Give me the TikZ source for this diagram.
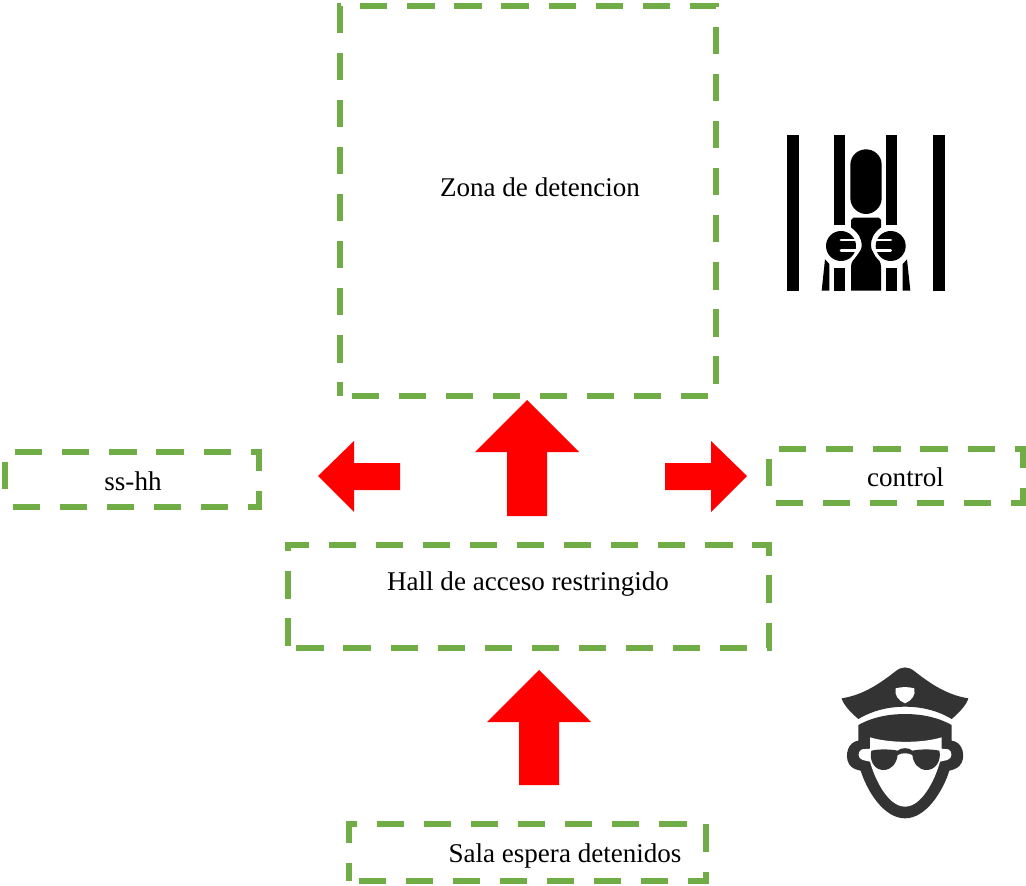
\documentclass[tikz,border=0pt]{standalone}
\usepackage{fontspec}
\setmainfont{Liberation Serif}
\definecolor{boxgreen}{HTML}{70AD47}
\definecolor{capgray}{HTML}{333333}
\tikzset{
	zonebox/.style={draw=boxgreen,line width=3.9pt,dash pattern=on 15.5pt off 11.3pt,inner sep=0pt,outer sep=0pt},
	zonetext/.style={font=\fontsize{15.4}{18}\selectfont,inner sep=0pt},
	redarrow/.style={fill=red}
}
\begin{document}
\begin{tikzpicture}[x=0.02cm,y=-0.02cm]
\useasboundingbox (0,0) rectangle (1026,885);

\node[zonebox,dash phase=20.2pt,minimum width=376*0.02cm,minimum height=390*0.02cm] (zona) at (528,201) {};
\node[zonebox,dash phase=22.45pt,minimum width=254*0.02cm,minimum height=55*0.02cm] (sshh) at (132,479.5) {};
\node[zonebox,dash phase=23pt,minimum width=254*0.02cm,minimum height=54*0.02cm] (control) at (896,476) {};
\node[zonebox,dash phase=22.05pt,minimum width=481*0.02cm,minimum height=103*0.02cm] (hall) at (528.5,596.5) {};
\node[zonebox,dash phase=21.3pt,minimum width=357*0.02cm,minimum height=57*0.02cm] (sala) at (527.5,852.5) {};

\node[zonetext] (zonalabel) at (540,187) {Zona de detencion};
\node[zonetext] (sshhlabel) at (133,481) {ss-hh};
\node[zonetext] (controllabel) at (905.5,477) {control};
\node[zonetext] (halllabel) at (528,584) {Hall de acceso restringido};
\node[zonetext] (salalabel) at (565,856) {Sala espera detenidos};

\fill[redarrow] (527,400) -- (579,452) -- (547,452) -- (547,516) -- (507,516) -- (507,452) -- (475,452) -- cycle;
\fill[redarrow] (539,670) -- (591,722) -- (559,722) -- (559,785) -- (519,785) -- (519,722) -- (487,722) -- cycle;
\fill[redarrow] (318,476) -- (354,441) -- (354,463) -- (400,463) -- (400,490) -- (354,490) -- (354,512) -- cycle;
\fill[redarrow] (747,476) -- (711,441) -- (711,463) -- (665,463) -- (665,490) -- (711,490) -- (711,512) -- cycle;

\begin{scope}[shift={(770,120)},x=0.02cm/3,y=-0.02cm/3]
\foreach \x in {52, 490} {
	\fill (\x,45) rectangle (\x+34,512);
}
\foreach \x in {193, 349} {
	\fill (\x,45) rectangle (\x+33,315);
	\fill (\x,445) rectangle (\x+33,512);
}
\fill (241,135) .. controls (241,105) and (265,88) .. (288,88) .. controls (311,88) and (335,105) .. (335,135) -- (335,235) .. controls (335,262) and (311,282) .. (288,282) .. controls (265,282) and (241,262) .. (241,235) -- cycle;
\fill (243,300) -- (250,293) -- (326,293) -- (333,300) -- (333,322) .. controls (310,340) and (303,355) .. (303,378) .. controls (303,400) and (333,415) .. (333,440) -- (333,512) -- (243,512) -- (243,440) .. controls (243,415) and (275,400) .. (275,378) .. controls (275,355) and (266,340) .. (243,322) -- cycle;
\fill (165,418) -- (178,432) -- (178,512) -- (155,512) -- cycle;
\fill (411,418) -- (398,432) -- (398,512) -- (421,512) -- cycle;
\foreach \x/\s in {213/1, 362/-1} {
	\fill[white] (\x,378) circle (55);
	\fill (\x,378) circle (45);
	\draw[white,line width=1.7pt,line cap=round] (\x,360) -- (\x+\s*50,360);
	\draw[white,line width=1.7pt,line cap=round] (\x,392) -- (\x+\s*50,392);
}
\end{scope}

\begin{scope}[shift={(830,660)},x=0.02cm/3,y=-0.02cm/3]
\fill[capgray] (35,115) .. controls (100,105) and (150,70) .. (195,35) .. controls (215,18) and (235,18) .. (255,35) .. controls (300,70) and (350,105) .. (415,115) .. controls (410,135) and (385,160) .. (365,177) .. controls (320,150) and (270,140) .. (225,140) .. controls (180,140) and (130,150) .. (85,177) .. controls (65,160) and (40,135) .. (35,115) -- cycle;
\fill[white] (197,85) .. controls (215,80) and (235,80) .. (253,85) .. controls (258,105) and (245,122) .. (225,130) .. controls (205,122) and (192,105) .. (197,85) -- cycle;
\fill[capgray] (85,195) .. controls (130,170) and (180,162) .. (225,162) .. controls (270,162) and (320,170) .. (365,195) -- (365,242) .. controls (400,245) and (410,295) .. (388,318) .. controls (380,326) and (368,330) .. (358,332) .. controls (340,390) and (290,475) .. (225,475) .. controls (160,475) and (110,390) .. (92,332) .. controls (82,330) and (65,326) .. (57,312) .. controls (42,285) and (55,245) .. (85,242) -- cycle;
\fill[white] (120,232) .. controls (180,250) and (275,250) .. (335,232) -- (335,266) -- (355,268) .. controls (368,275) and (368,295) .. (352,300) -- (330,305) .. controls (315,360) and (275,440) .. (225,440) .. controls (175,440) and (135,360) .. (120,305) -- (98,300) .. controls (82,295) and (82,275) .. (95,268) -- (120,266) -- cycle;
\fill[capgray] (124,272) .. controls (150,266) and (185,268) .. (203,272) .. controls (212,262) and (238,262) .. (247,272) .. controls (265,268) and (300,266) .. (328,272) .. controls (335,300) and (318,330) .. (290,330) .. controls (265,330) and (250,310) .. (247,285) .. controls (235,278) and (215,278) .. (203,285) .. controls (200,310) and (185,330) .. (160,330) .. controls (132,330) and (117,300) .. (124,272) -- cycle;
\end{scope}
\end{tikzpicture}
\end{document}
